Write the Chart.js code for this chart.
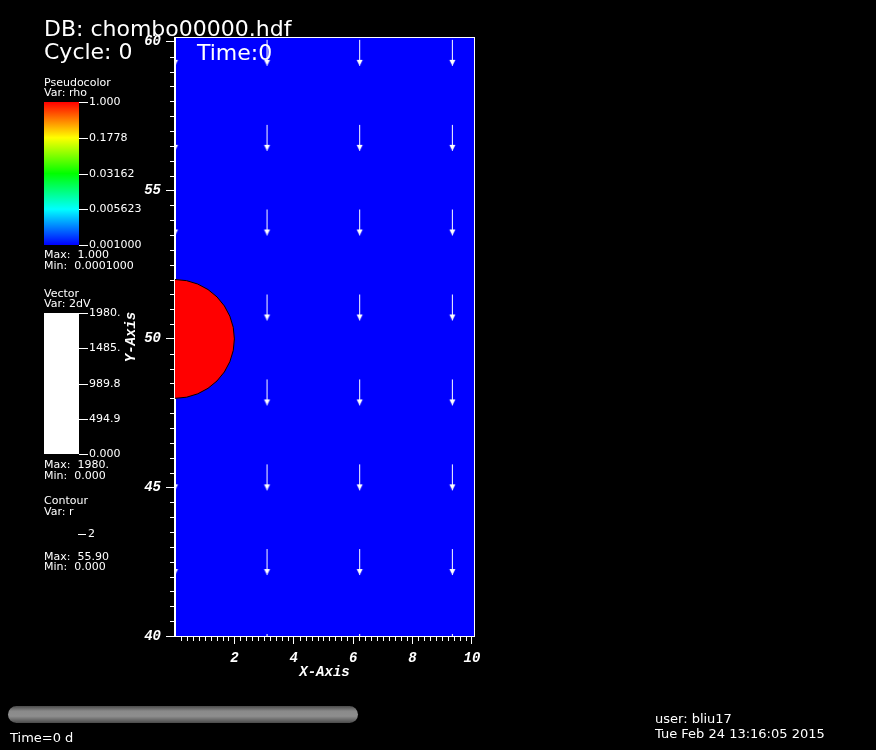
<!DOCTYPE html>
<html>
<head>
<meta charset="utf-8">
<script src="https://cdn.jsdelivr.net/npm/chart.js@4.4.1/dist/chart.umd.min.js"></script>
<style>
  html, body { margin: 0; padding: 0; background: #000; }
  canvas { display: block; }
</style>
</head>
<body>
<canvas id="plot" width="876" height="750"></canvas>
<script>
// axis ranges + labelled ticks
const xRange = [0, 10.07];
const yRange = [40, 60.13];
const xTickLabels = [2, 4, 6, 8, 10];
const yTickLabels = [40, 45, 50, 55, 60];

// vector glyph seed points (all pointing straight down, max magnitude)
const arrowCols = [0, 3.1, 6.22, 9.34];
const arrowRows = [60, 57.14, 54.29, 51.43, 48.57, 45.71, 42.86, 40];

// dense blob (rho = 1) bounded by contour r = 2
const blobCenter = [0, 50];
const blobRadius = 2;

// legend texts
const rhoLabels = ['1.000', '0.1778', '0.03162', '0.005623', '0.001000'];
const vecLabels = ['1980.', '1485.', '989.8', '494.9', '0.000'];
const contourLevels = ['2'];

// arrow glyph: tail sits near the image centre, head points down
function makeArrow() {
  const c = document.createElement('canvas');
  c.width = 9;
  c.height = 52;
  const g = c.getContext('2d');
  g.fillStyle = '#fff';
  g.fillRect(4, 24, 1, 26);
  g.beginPath();
  g.moveTo(1.5, 44);
  g.lineTo(7.5, 44);
  g.lineTo(4.5, 50);
  g.closePath();
  g.fill();
  return c;
}

const arrowPoints = [];
arrowCols.forEach(x => {
  arrowRows.forEach(y => {
    // no flow inside the blob
    if (Math.hypot(x - blobCenter[0], y - blobCenter[1]) < blobRadius) return;
    arrowPoints.push({ x: x, y: y });
  });
});

const axisFont = { family: 'Liberation Mono', size: 14, weight: 'bold', style: 'italic' };

const backdrop = {
  id: 'backdrop',
  beforeDraw(chart) {
    const { ctx, chartArea: a } = chart;
    ctx.save();
    ctx.fillStyle = '#000';
    ctx.fillRect(0, 0, chart.width, chart.height);
    ctx.fillStyle = '#0000ff';
    ctx.fillRect(a.left, a.top, a.width, a.height);
    ctx.restore();
  }
};

const blob = {
  id: 'blob',
  afterDatasetsDraw(chart) {
    const { ctx, chartArea: a, scales: { x, y } } = chart;
    const cx = x.getPixelForValue(blobCenter[0]);
    const cy = y.getPixelForValue(blobCenter[1]);
    const rx = x.getPixelForValue(blobCenter[0] + blobRadius) - cx;
    const ry = cy - y.getPixelForValue(blobCenter[1] + blobRadius);
    ctx.save();
    ctx.beginPath();
    ctx.rect(a.left, a.top, a.width, a.height);
    ctx.clip();
    ctx.beginPath();
    ctx.ellipse(cx, cy, rx, ry, 0, 0, Math.PI * 2);
    ctx.fillStyle = '#ff0000';
    ctx.fill();
    ctx.lineWidth = 1;
    ctx.strokeStyle = '#000';
    ctx.stroke();
    ctx.restore();
  }
};

// frame, minor ticks, and all the VisIt annotation text
const annotations = {
  id: 'annotations',
  afterDraw(chart) {
    const { ctx, chartArea: a, scales: { x, y } } = chart;
    ctx.save();
    ctx.strokeStyle = '#fff';
    ctx.lineWidth = 1;
    ctx.strokeRect(a.left - 0.5, a.top - 0.5, a.width + 1, a.height + 1);

    ctx.beginPath();
    for (let i = 1; i < 40; i++) {
      if (i % 10 === 0) continue;
      const py = Math.round(y.getPixelForValue(40 + i * 0.5)) + 0.5;
      ctx.moveTo(a.left - 5, py);
      ctx.lineTo(a.left, py);
    }
    for (let i = 1; i <= 50; i++) {
      if (i % 10 === 0) continue;
      const px = Math.round(x.getPixelForValue(i * 0.2)) + 0.5;
      ctx.moveTo(px, a.bottom);
      ctx.lineTo(px, a.bottom + 5);
    }
    ctx.stroke();

    ctx.fillStyle = '#fff';
    ctx.textBaseline = 'alphabetic';
    ctx.textAlign = 'left';
    ctx.font = '22px "DejaVu Sans"';
    ctx.fillText('DB: chombo00000.hdf', 44, 36);
    ctx.fillText('Cycle: 0', 44, 59);
    ctx.fillText('Time:0', 197, 60);

    ctx.font = '11px "DejaVu Sans"';
    ctx.fillText('Pseudocolor', 44, 86);
    ctx.fillText('Var: rho', 44, 96);

    const grad = ctx.createLinearGradient(0, 102, 0, 245);
    grad.addColorStop(0, '#ff0000');
    grad.addColorStop(0.25, '#ffff00');
    grad.addColorStop(0.5, '#00ff00');
    grad.addColorStop(0.75, '#00ffff');
    grad.addColorStop(1, '#0000ff');
    ctx.fillStyle = grad;
    ctx.fillRect(44, 102, 35, 143);

    ctx.fillStyle = '#fff';
    ctx.fillRect(44, 313, 35, 141);

    function barLabels(labels, top, bottom) {
      ctx.textBaseline = 'middle';
      ctx.beginPath();
      labels.forEach((t, i) => {
        const py = Math.round(top + i * (bottom - top) / (labels.length - 1)) + 0.5;
        ctx.moveTo(79, py);
        ctx.lineTo(88, py);
        ctx.fillText(t, 89, py);
      });
      ctx.stroke();
      ctx.textBaseline = 'alphabetic';
    }
    barLabels(rhoLabels, 102, 245);
    ctx.fillText('Max:  1.000', 44, 258);
    ctx.fillText('Min:  0.0001000', 44, 269);

    ctx.fillText('Vector', 44, 297);
    ctx.fillText('Var: 2dV', 44, 307);
    barLabels(vecLabels, 313, 454);
    ctx.fillText('Max:  1980.', 44, 468);
    ctx.fillText('Min:  0.000', 44, 479);

    ctx.fillText('Contour', 44, 504);
    ctx.fillText('Var: r', 44, 515);
    ctx.beginPath();
    ctx.moveTo(78, 534.5);
    ctx.lineTo(86, 534.5);
    ctx.stroke();
    ctx.textBaseline = 'middle';
    ctx.fillText(contourLevels[0], 88, 534);
    ctx.textBaseline = 'alphabetic';
    ctx.fillText('Max:  55.90', 44, 560);
    ctx.fillText('Min:  0.000', 44, 570);

    // time slider
    const sg = ctx.createLinearGradient(0, 706, 0, 723);
    sg.addColorStop(0, '#4a4a4a');
    sg.addColorStop(0.3, '#8a8a8a');
    sg.addColorStop(0.6, '#8e8e8e');
    sg.addColorStop(1, '#4a4a4a');
    ctx.fillStyle = sg;
    ctx.beginPath();
    ctx.roundRect(8, 706, 350, 17, 8.5);
    ctx.fill();

    ctx.fillStyle = '#fff';
    ctx.font = '13px "DejaVu Sans"';
    ctx.fillText('Time=0 d', 10, 742);
    ctx.fillText('user: bliu17', 655, 723);
    ctx.fillText('Tue Feb 24 13:16:05 2015', 655, 738);
    ctx.restore();
  }
};

new Chart(document.getElementById('plot'), {
  type: 'scatter',
  data: {
    datasets: [{
      label: '2dV',
      data: arrowPoints,
      pointStyle: makeArrow(),
      pointRadius: 2,
      clip: 0
    }]
  },
  options: {
    responsive: false,
    animation: false,
    events: [],
    layout: { padding: { left: 0, top: 38, right: 402, bottom: 0 } },
    scales: {
      x: {
        type: 'linear',
        min: xRange[0],
        max: xRange[1],
        afterBuildTicks: s => { s.ticks = xTickLabels.map(v => ({ value: v })); },
        afterFit: s => { s.height = 114; },
        ticks: { color: '#fff', font: axisFont, padding: 6, maxRotation: 0, autoSkip: false },
        grid: { drawOnChartArea: false, color: '#fff', tickLength: 8 },
        border: { color: '#fff' },
        title: { display: true, text: 'X-Axis', color: '#fff', font: axisFont, padding: { top: 0, bottom: 69 } }
      },
      y: {
        type: 'linear',
        min: yRange[0],
        max: yRange[1],
        afterBuildTicks: s => { s.ticks = yTickLabels.map(v => ({ value: v })); },
        afterFit: s => { s.width = 175; },
        ticks: { color: '#fff', font: axisFont, padding: 5, autoSkip: false },
        grid: { drawOnChartArea: false, color: '#fff', tickLength: 9 },
        border: { color: '#fff' },
        title: { display: true, text: 'Y-Axis', color: '#fff', font: axisFont, padding: { top: 123, bottom: 0 } }
      }
    },
    plugins: {
      legend: { display: false },
      tooltip: { enabled: false }
    }
  },
  plugins: [backdrop, blob, annotations]
});
</script>
</body>
</html>
